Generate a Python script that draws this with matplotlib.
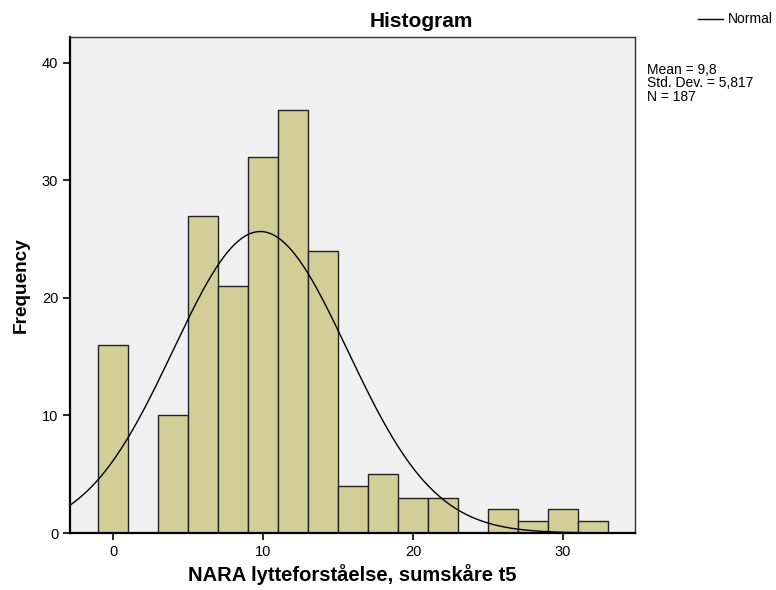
import numpy as np
import matplotlib
matplotlib.use("Agg")
from matplotlib import pyplot as plt

# histogram bins (centres) and counts
bin_centers = [0, 2, 4, 6, 8, 10, 12, 14, 16, 18, 20, 22, 24, 26, 28, 30, 32]
counts = [16, 0, 10, 27, 21, 32, 36, 24, 4, 5, 3, 3, 0, 2, 1, 2, 1]
mean = 9.8
sd = 5.817
n = 187
bin_width = 2

plt.rcParams['font.family'] = ['Liberation Sans', 'DejaVu Sans']

fig = plt.figure(figsize=(7.76, 5.9), dpi=100)
ax = fig.add_axes([0.0902, 0.0966, 0.7281, 0.8407])
ax.set_facecolor('#f0f0f0')

ax.bar(bin_centers, counts, width=bin_width, color='#d3ce97',
       edgecolor='#222222', linewidth=1.0)

# normal curve scaled to the histogram
x = np.linspace(-2.9, 34.8, 400)
y = n * bin_width / (sd * np.sqrt(2 * np.pi)) * np.exp(-0.5 * ((x - mean) / sd) ** 2)
ax.plot(x, y, color='black', linewidth=1.0)

ax.set_xlim(-2.9, 34.8)
ax.set_ylim(0, 42.2)
ax.set_xticks([0, 10, 20, 30])
ax.set_yticks([0, 10, 20, 30, 40])
ax.tick_params(labelsize=10.5, length=5, width=1.2, colors='black')
for side in ['left', 'bottom']:
    ax.spines[side].set_linewidth(1.6)
for side in ['top', 'right']:
    ax.spines[side].set_linewidth(1.0)
    ax.spines[side].set_color('#333333')

# title is centred a bit right of the axes, as in the original
fig.text(0.5425, 0.963, 'Histogram', fontsize=15, fontweight='bold',
         ha='center', va='center')
ax.set_xlabel('NARA lytteforståelse, sumskåre t5', fontsize=14.5,
              fontweight='bold', labelpad=4)
ax.set_ylabel('Frequency', fontsize=13.7, fontweight='bold', labelpad=9)

# legend and stats text on the right
fig.add_artist(plt.Line2D([0.8995, 0.9320], [0.9680, 0.9680],
                          color='black', linewidth=1.0))
fig.text(0.9385, 0.9680, 'Normal', fontsize=10, va='center')
fig.text(0.834, 0.894, 'Mean = 9,8\nStd. Dev. = 5,817\nN = 187',
         fontsize=10, va='top', linespacing=0.98)

plt.savefig('out.png', dpi=100)
